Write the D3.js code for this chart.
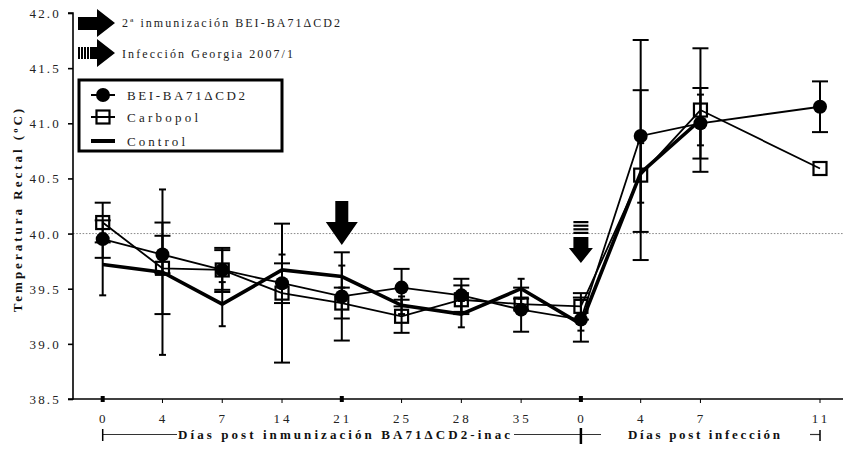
<!DOCTYPE html>
<html><head><meta charset="utf-8">
<script src="https://cdn.jsdelivr.net/npm/d3@7"></script>
<style>
html,body{margin:0;padding:0;background:#fff;}
svg{display:block;font-family:"Liberation Serif","Times New Roman",serif;}
</style></head>
<body>
<svg id="chart" width="845" height="454"></svg>
<script>
// ---- data ----
const categories = ["I0","I4","I7","I14","I21","I25","I28","I35","P0","P4","P7","P9","P11"];
const tickLabels = ["0","4","7","14","21","25","28","35","0","4","7","","11"];
const bei     = [39.95,39.81,39.67,39.55,39.43,39.51,39.44,39.31,39.22,40.885,41.00,null,41.15];
const beiErr  = [0.17,0.17,0.20,0.18,0.40,0.17,0.15,0.20,0.20,0.87,0.32,null,0.23];
const carb    = [40.10,39.685,39.67,39.46,39.37,39.25,39.40,39.36,39.34,40.53,41.12,null,40.59];
const carbErr = [0.18,0.415,0.18,0.63,0.14,0.15,0.13,0.05,0.12,0.77,0.56,null,0];
const ctrl    = [39.72,39.65,39.36,39.67,39.61,39.35,39.27,39.50,39.18,40.55,41.03,null,null];
const ctrlErr = [0.28,0.75,0.20,0.14,0.10,0.08,0.12,0.09,0.06,0.27,0.23,null,null];
const yTicks  = [38.5,39.0,39.5,40.0,40.5,41.0,41.5,42.0];
const seriesNames = ["BEI-BA71\u0394CD2","Carbopol","Control"];
const noteTexts = ["2\u00aa inmunizaci\u00f3n BEI-BA71\u0394CD2","Infecci\u00f3n Georgia 2007/1"];
const phaseLabels = ["D\u00edas post inmunizaci\u00f3n BA71\u0394CD2-inac","D\u00edas post infecci\u00f3n"];
const emphasized = ["I0","I21","P0"];

const svg = d3.select("#chart");
const x = d3.scalePoint().domain(categories).range([102.7, 820]);
const y = d3.scaleLinear().domain([38.5, 42]).range([399, 13]);
const X0 = 73, XR = 843;

// dotted reference at 40
svg.append("line").attr("x1",X0).attr("x2",XR).attr("y1",y(40)).attr("y2",y(40))
  .attr("stroke","#8a8a8a").attr("stroke-width",1).attr("stroke-dasharray","1.6,1.6");

// y axis
const gy = svg.append("g").attr("transform",`translate(${X0},0)`)
  .call(d3.axisLeft(y).tickValues(yTicks).tickFormat(d3.format(".1f")).tickSize(5).tickPadding(7));
gy.select(".domain").attr("stroke","#000").attr("stroke-width",1.6).attr("d",`M-5,${y(38.5)}H0V${y(42)}H-5`);
gy.selectAll(".tick line").attr("stroke","#000").attr("stroke-width",1.6);
gy.selectAll(".tick text").attr("font-family","Liberation Serif").attr("font-size",13)
  .attr("letter-spacing","2.2px").attr("fill","#222").attr("dy","0.35em");

// x axis
svg.append("line").attr("x1",X0).attr("x2",XR).attr("y1",y(38.5)).attr("y2",y(38.5))
  .attr("stroke","#000").attr("stroke-width",1.6);
categories.forEach((c,i)=>{
  if(tickLabels[i]==="") return;
  const cx = x(c);
  if(emphasized.includes(c)){
    svg.append("rect").attr("x",cx-2).attr("y",y(38.5)-3).attr("width",4).attr("height",6).attr("fill","#000");
  } else {
    svg.append("line").attr("x1",cx).attr("x2",cx).attr("y1",y(38.5)).attr("y2",y(38.5)+4)
      .attr("stroke","#000").attr("stroke-width",1);
  }
  svg.append("text").attr("x",cx+1).attr("y",423).attr("text-anchor","middle")
    .attr("font-size",13).attr("letter-spacing","3px").attr("fill","#222").text(tickLabels[i]);
});

// phase brackets
const by = 434.5;
svg.append("line").attr("x1",x("I0")).attr("x2",177).attr("y1",by).attr("y2",by).attr("stroke","#333").attr("stroke-width",1.2);
svg.append("line").attr("x1",514).attr("x2",601).attr("y1",by).attr("y2",by).attr("stroke","#333").attr("stroke-width",1.2);
svg.append("line").attr("x1",810).attr("x2",x("P11")).attr("y1",by).attr("y2",by).attr("stroke","#333").attr("stroke-width",1.2);
svg.append("line").attr("x1",x("I0")).attr("x2",x("I0")).attr("y1",429).attr("y2",441).attr("stroke","#000").attr("stroke-width",1.5);
svg.append("line").attr("x1",x("P0")).attr("x2",x("P0")).attr("y1",428).attr("y2",444).attr("stroke","#000").attr("stroke-width",2.5);
svg.append("line").attr("x1",x("P11")).attr("x2",x("P11")).attr("y1",430).attr("y2",441).attr("stroke","#000").attr("stroke-width",1.5);
svg.append("text").attr("x",178).attr("y",439).attr("font-size",13).attr("font-weight","bold")
  .attr("textLength",332).attr("lengthAdjust","spacing").attr("fill","#111").text(phaseLabels[0]);
svg.append("text").attr("x",628).attr("y",439).attr("font-size",13).attr("font-weight","bold")
  .attr("textLength",152).attr("lengthAdjust","spacing").attr("fill","#111").text(phaseLabels[1]);

// y title
svg.append("text").attr("transform","translate(22,209) rotate(-90)").attr("text-anchor","middle")
  .attr("font-size",13).attr("font-weight","bold").attr("letter-spacing","3px").attr("fill","#111")
  .text("Temperatura Rectal (\u00baC)");

// series helpers
function pts(vals, errs){
  return categories.map((c,i)=>({c, v:vals[i], e:errs[i]})).filter(d=>d.v!=null);
}
const S = [
  {name:seriesNames[0], data:pts(bei,beiErr), lw:1.8, cap:8, marker:"circle"},
  {name:seriesNames[1], data:pts(carb,carbErr), lw:1.8, cap:8, marker:"square"},
  {name:seriesNames[2], data:pts(ctrl,ctrlErr), lw:3.6, cap:3.5, marker:"none"}
];

// error bars
S.forEach(s=>{
  const g = svg.append("g");
  s.data.filter(d=>d.e>0).forEach(d=>{
    const cx=x(d.c), y1=y(d.v+d.e), y2=y(d.v-d.e);
    g.append("line").attr("x1",cx).attr("x2",cx).attr("y1",y1).attr("y2",y2).attr("stroke","#000").attr("stroke-width",2);
    [y1,y2].forEach(yy=>g.append("line").attr("x1",cx-s.cap).attr("x2",cx+s.cap).attr("y1",yy).attr("y2",yy)
      .attr("stroke","#000").attr("stroke-width",2));
  });
});

// lines
const line = d3.line().x(d=>x(d.c)).y(d=>y(d.v));
[S[2],S[1],S[0]].forEach(s=>{
  svg.append("path").datum(s.data).attr("d",line).attr("fill","none").attr("stroke","#000")
    .attr("stroke-width",s.lw).attr("stroke-linejoin","miter");
});

// markers
function drawMarker(g, type, cx, cy){
  if(type==="circle") g.append("circle").attr("cx",cx).attr("cy",cy).attr("r",7).attr("fill","#000");
  else if(type==="square") g.append("rect").attr("x",cx-6.5).attr("y",cy-6.5).attr("width",13).attr("height",13)
      .attr("fill","none").attr("stroke","#000").attr("stroke-width",2.2);
}
const mg = svg.append("g");
S[1].data.forEach(d=>drawMarker(mg,"square",x(d.c),y(d.v)));
S[0].data.forEach(d=>drawMarker(mg,"circle",x(d.c),y(d.v)));

// event arrows on plot
(function(){
  const cx = x("I21");
  svg.append("path").attr("fill","#000")
    .attr("d",`M${cx-6.5},201H${cx+6.5}V222H${cx+16}L${cx},245L${cx-16},222H${cx-6.5}Z`);
  const px = x("P0");
  svg.append("path").attr("fill","#000")
    .attr("d",`M${px-7.5},237H${px+7.5}V248H${px+12}L${px},263L${px-12},248H${px-7.5}Z`);
  for(let k=0;k<4;k++){
    svg.append("rect").attr("x",px-7.5).attr("y",221+k*3.6).attr("width",15).attr("height",2.2).attr("fill","#000");
  }
})();

// top note arrows
svg.append("path").attr("fill","#000").attr("d","M78,17H97V9L115,23L97,37V30H78Z");
svg.append("path").attr("fill","#000").attr("d","M90,47H97V39L115,53L97,67V59H90Z");
for(let k=0;k<4;k++){
  svg.append("rect").attr("x",78+k*3).attr("y",47).attr("width",2).attr("height",12).attr("fill","#000");
}
svg.append("text").attr("x",122).attr("y",27).attr("font-size",12).attr("textLength",218)
  .attr("lengthAdjust","spacing").attr("fill","#222").text(noteTexts[0]);
svg.append("text").attr("x",122).attr("y",58).attr("font-size",12).attr("textLength",171)
  .attr("lengthAdjust","spacing").attr("fill","#222").text(noteTexts[1]);

// legend
const lg = svg.append("g");
lg.append("rect").attr("x",79).attr("y",80).attr("width",203).attr("height",71)
  .attr("fill","#fff").attr("stroke","#000").attr("stroke-width",3);
const ly = [95,117,141];
const lw = [118,71,58];
[0,1,2].forEach(i=>{
  lg.append("line").attr("x1",91).attr("x2",115).attr("y1",ly[i]).attr("y2",ly[i])
    .attr("stroke","#000").attr("stroke-width",i===2?4:2);
  drawMarker(lg, S[i].marker, 103, ly[i]);
  lg.append("text").attr("x",127).attr("y",ly[i]+5).attr("font-size",13).attr("textLength",lw[i])
    .attr("lengthAdjust","spacing").attr("fill","#222").text(seriesNames[i]);
});
</script>
</body></html>
